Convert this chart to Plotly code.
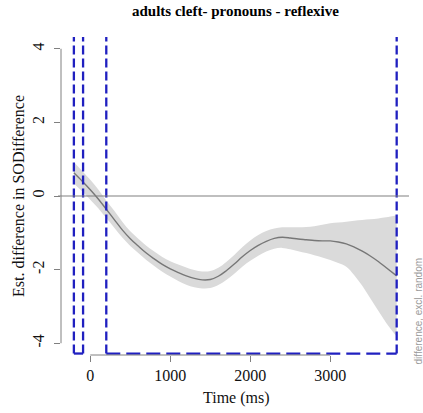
import plotly.graph_objects as go

# Smooth estimate of the difference curve (time in ms)
time_ms = [-205, -100, 0, 100, 200, 300, 400, 500, 600, 700, 800, 900, 1000,
           1100, 1200, 1300, 1400, 1500, 1600, 1700, 1800, 1900, 2000, 2100,
           2200, 2300, 2400, 2500, 2600, 2700, 2800, 2900, 3000, 3100, 3200,
           3300, 3400, 3500, 3600, 3700, 3830]
est_diff = [0.63, 0.40, 0.17, -0.08, -0.36, -0.64, -0.92, -1.16, -1.36, -1.55,
            -1.71, -1.86, -1.98, -2.08, -2.17, -2.24, -2.28, -2.27, -2.18,
            -2.03, -1.85, -1.65, -1.48, -1.34, -1.23, -1.15, -1.12, -1.14,
            -1.17, -1.19, -1.21, -1.22, -1.22, -1.25, -1.30, -1.39, -1.50,
            -1.63, -1.78, -1.95, -2.17]
ci_upper = [0.92, 0.68, 0.44, 0.18, -0.12, -0.40, -0.70, -0.96, -1.16, -1.35,
            -1.51, -1.66, -1.77, -1.86, -1.94, -2.01, -2.05, -2.04, -1.95,
            -1.79, -1.60, -1.39, -1.21, -1.06, -0.95, -0.88, -0.85, -0.85,
            -0.85, -0.84, -0.82, -0.78, -0.74, -0.72, -0.70, -0.67, -0.65,
            -0.63, -0.61, -0.58, -0.52]
ci_lower = [0.34, 0.12, -0.10, -0.33, -0.60, -0.86, -1.13, -1.36, -1.55, -1.74,
            -1.90, -2.06, -2.19, -2.31, -2.41, -2.48, -2.51, -2.50, -2.42,
            -2.28, -2.11, -1.92, -1.76, -1.62, -1.51, -1.43, -1.41, -1.45,
            -1.50, -1.55, -1.61, -1.67, -1.74, -1.82, -1.92, -2.15, -2.44,
            -2.78, -3.12, -3.45, -3.82]

# Windows where the difference is significant
sig_start = [-205, 200]
sig_end = [-90, 3830]

x_ticks = [0, 1000, 2000, 3000]
y_ticks = [-4, -2, 0, 2, 4]

title_text = "adults cleft- pronouns - reflexive"
x_title = "Time (ms)"
y_title = "Est. difference in SODifference"
side_note = "difference, excl. random"

SERIF = "Liberation Serif"
SANS = "Liberation Sans"
BLUE = "#2020c0"
BAND = "#dadada"
LINE = "#777777"
AXIS = "#808080"
Y_MIN, Y_MAX = -4.32, 4.32
X_MIN, X_MAX = -366, 3984
RECT_BOTTOM = -4.28
RECT_TOP = 5.0

fig = go.Figure()

# confidence band
fig.add_trace(go.Scatter(x=time_ms, y=ci_upper, mode="lines",
                         line=dict(width=0, shape="spline"),
                         hoverinfo="skip", showlegend=False))
fig.add_trace(go.Scatter(x=time_ms, y=ci_lower, mode="lines",
                         line=dict(width=0, shape="spline"),
                         fill="tonexty", fillcolor=BAND,
                         hoverinfo="skip", showlegend=False))

# zero reference line
fig.add_shape(type="line", xref="paper", yref="y", x0=-0.0086, x1=1,
              y0=0, y1=0, line=dict(color=AXIS, width=1.2), layer="above")

# estimated difference
fig.add_trace(go.Scatter(x=time_ms, y=est_diff, mode="lines",
                         line=dict(color=LINE, width=1.4, shape="spline"),
                         showlegend=False))

# significance windows drawn as dashed open boxes
for s, e in zip(sig_start, sig_end):
    for xv in (s, e):
        fig.add_trace(go.Scatter(x=[xv, xv], y=[RECT_BOTTOM, RECT_TOP],
                                 mode="lines", showlegend=False,
                                 line=dict(color=BLUE, width=2.3,
                                           dash="9px,4px")))
    fig.add_trace(go.Scatter(x=[s, e], y=[RECT_BOTTOM, RECT_BOTTOM],
                             mode="lines", showlegend=False,
                             line=dict(color=BLUE, width=2.3,
                                       dash="14px,6px")))

# axis lines spanning only the tick range
fig.add_shape(type="line", xref="paper", yref="y", x0=0, x1=0,
              y0=min(y_ticks), y1=max(y_ticks),
              line=dict(color=AXIS, width=1))
fig.add_shape(type="line", xref="x", yref="paper", x0=min(x_ticks),
              x1=max(x_ticks), y0=0, y1=0,
              line=dict(color=AXIS, width=1))

# texts
fig.add_annotation(text=f"<b>{title_text}</b>", xref="paper", yref="paper",
                   x=0.5, y=1.082, showarrow=False,
                   xanchor="center", yanchor="middle",
                   font=dict(family=SERIF, size=15, color="#000000"))
fig.add_annotation(text=x_title, xref="paper", yref="paper",
                   x=0.503, y=-0.135, showarrow=False,
                   xanchor="center", yanchor="middle",
                   font=dict(family=SERIF, size=16, color="#111111"))
fig.add_annotation(text=y_title, xref="paper", yref="paper",
                   x=-0.1236, y=0.5, showarrow=False, textangle=-90,
                   xanchor="center", yanchor="middle",
                   font=dict(family=SERIF, size=16, color="#111111"))
fig.add_annotation(text=side_note, xref="paper", yref="paper",
                   x=1.026, y=0.137, showarrow=False, textangle=-90,
                   xanchor="center", yanchor="middle",
                   font=dict(family=SANS, size=10, color="#9a9a9a"))

fig.update_xaxes(range=[X_MIN, X_MAX], tickvals=x_ticks,
                 ticktext=[str(v) for v in x_ticks],
                 showgrid=False, zeroline=False, showline=False,
                 ticks="outside", ticklen=6, tickcolor=AXIS, tickwidth=1,
                 tickfont=dict(family=SERIF, size=16, color="#111111"))
fig.update_yaxes(range=[Y_MIN, Y_MAX], tickvals=y_ticks,
                 ticktext=[str(v) for v in y_ticks],
                 showgrid=False, zeroline=False, showline=False,
                 ticks="outside", ticklen=6, tickcolor=AXIS, tickwidth=1,
                 tickangle=-90, ticklabelstandoff=4,
                 tickfont=dict(family=SERIF, size=16, color="#111111"))

fig.update_layout(width=423, height=413,
                  margin=dict(l=61, r=14, t=37, b=58),
                  plot_bgcolor="white", paper_bgcolor="white",
                  showlegend=False)

fig.write_html("out.html")
